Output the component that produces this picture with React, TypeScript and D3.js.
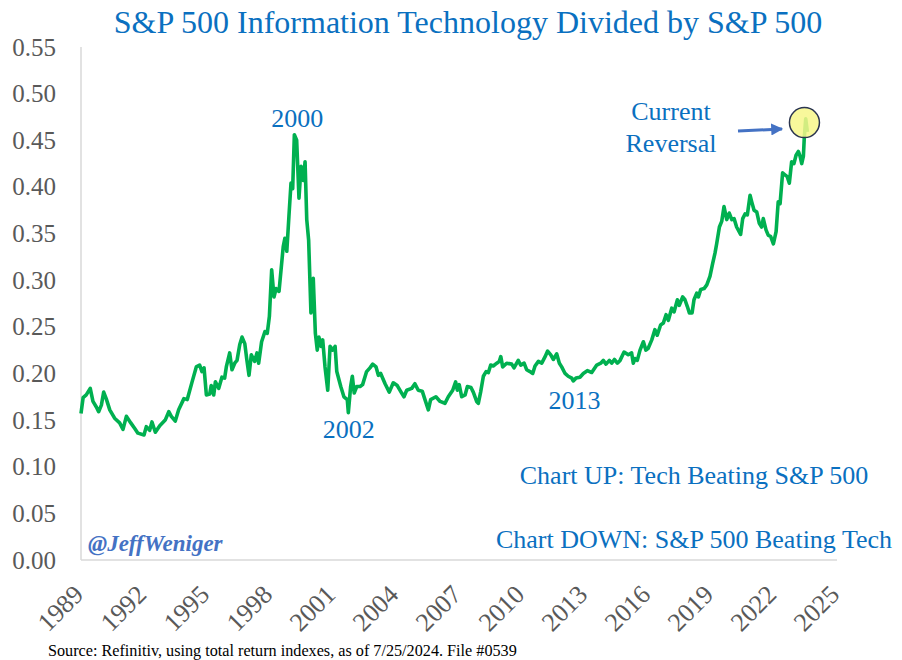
import React from "react";
import * as d3 from "d3";

// Decimal years and ratio values
const years: number[] = [
  1989.0, 1989.1, 1989.25, 1989.44, 1989.57, 1989.73, 1989.84, 1989.97, 1990.08, 1990.2,
  1990.37, 1990.6, 1990.84, 1991.0, 1991.16, 1991.37, 1991.56, 1991.71, 1992.0, 1992.11,
  1992.27, 1992.38, 1992.54, 1992.75, 1993.01, 1993.18, 1993.3, 1993.49, 1993.65, 1993.9,
  1994.06, 1994.29, 1994.49, 1994.65, 1994.76, 1994.86, 1994.97, 1995.13, 1995.2, 1995.32,
  1995.4, 1995.56, 1995.71, 1995.84, 1995.92, 1996.08, 1996.19, 1996.32, 1996.43, 1996.56,
  1996.67, 1996.8, 1996.9, 1997.0, 1997.11, 1997.27, 1997.38, 1997.46, 1997.6, 1997.76,
  1997.87, 1997.97, 1998.08, 1998.19, 1998.29, 1998.43, 1998.63, 1998.71, 1998.8, 1998.9,
  1999.0, 1999.08, 1999.16, 1999.27, 1999.38, 1999.48, 1999.59, 1999.67, 1999.75, 1999.84,
  1999.95, 2000.06, 2000.16, 2000.25, 2000.33, 2000.43, 2000.51, 2000.62, 2000.75, 2000.86,
  2000.99, 2001.1, 2001.18, 2001.37, 2001.52, 2001.68, 2001.73, 2001.84, 2001.92, 2002.01,
  2002.13, 2002.29, 2002.41, 2002.6, 2002.76, 2002.89, 2003.05, 2003.16, 2003.27, 2003.48,
  2003.68, 2003.87, 2004.06, 2004.27, 2004.38, 2004.51, 2004.75, 2004.9, 2005.06, 2005.25,
  2005.38, 2005.54, 2005.65, 2005.9, 2006.1, 2006.33, 2006.49, 2006.7, 2006.84, 2006.92,
  2007.01, 2007.13, 2007.29, 2007.4, 2007.57, 2007.68, 2007.84, 2007.92, 2008.03, 2008.16,
  2008.29, 2008.4, 2008.51, 2008.63, 2008.8, 2008.92, 2008.99, 2009.08, 2009.27, 2009.51,
  2009.62, 2009.82, 2009.94, 2010.1, 2010.22, 2010.38, 2010.51, 2010.62, 2010.78, 2010.94,
  2011.1, 2011.22, 2011.37, 2011.49, 2011.65, 2011.78, 2011.89, 2012.05, 2012.2, 2012.37,
  2012.44, 2012.57, 2012.76, 2012.92, 2013.11, 2013.32, 2013.56, 2013.75, 2013.87, 2014.0,
  2014.16, 2014.27, 2014.4, 2014.54, 2014.67, 2014.86, 2015.06, 2015.22, 2015.3, 2015.38,
  2015.49, 2015.62, 2015.78, 2015.9, 2016.01, 2016.18, 2016.33, 2016.44, 2016.6, 2016.73,
  2016.86, 2016.97, 2017.13, 2017.24, 2017.4, 2017.49, 2017.65, 2017.76, 2017.87, 2017.97,
  2018.1, 2018.19, 2018.32, 2018.4, 2018.51, 2018.67, 2018.8, 2018.95, 2019.08, 2019.19,
  2019.27, 2019.4, 2019.51, 2019.62, 2019.75, 2019.87, 2019.99, 2020.1, 2020.22, 2020.41,
  2020.51, 2020.62, 2020.73, 2020.86, 2020.94, 2021.05, 2021.18, 2021.3, 2021.41, 2021.49,
  2021.62, 2021.73, 2021.84, 2021.97, 2022.1, 2022.2, 2022.29, 2022.41, 2022.52, 2022.63,
  2022.73, 2022.84, 2022.95, 2023.05, 2023.16, 2023.24, 2023.32, 2023.4, 2023.44, 2023.51,
  2023.59,
];

const ratios: number[] = [
  0.157, 0.174, 0.177, 0.184, 0.17, 0.164, 0.159, 0.166, 0.18, 0.173,
  0.161, 0.152, 0.147, 0.14, 0.154, 0.147, 0.141, 0.136, 0.134, 0.143,
  0.139, 0.148, 0.137, 0.144, 0.15, 0.159, 0.154, 0.149, 0.161, 0.173,
  0.172, 0.191, 0.207, 0.209, 0.202, 0.206, 0.177, 0.178, 0.187, 0.177,
  0.191, 0.184, 0.196, 0.195, 0.207, 0.222, 0.204, 0.211, 0.214, 0.231,
  0.239, 0.232, 0.214, 0.198, 0.22, 0.213, 0.222, 0.211, 0.234, 0.245,
  0.243, 0.261, 0.311, 0.282, 0.291, 0.288, 0.336, 0.345, 0.331, 0.368,
  0.404, 0.398, 0.456, 0.45, 0.388, 0.422, 0.407, 0.427, 0.365, 0.343,
  0.265, 0.302, 0.243, 0.225, 0.239, 0.229, 0.236, 0.207, 0.182, 0.229,
  0.225, 0.229, 0.202, 0.186, 0.175, 0.172, 0.158, 0.186, 0.197, 0.179,
  0.186, 0.186, 0.188, 0.202, 0.206, 0.21, 0.207, 0.198, 0.2, 0.189,
  0.18, 0.19, 0.187, 0.179, 0.175, 0.182, 0.184, 0.189, 0.182, 0.181,
  0.172, 0.161, 0.172, 0.175, 0.17, 0.168, 0.175, 0.182, 0.191, 0.182,
  0.188, 0.175, 0.177, 0.186, 0.185, 0.18, 0.17, 0.168, 0.18, 0.197,
  0.202, 0.201, 0.209, 0.208, 0.211, 0.213, 0.218, 0.207, 0.211, 0.21,
  0.206, 0.214, 0.209, 0.211, 0.204, 0.202, 0.2, 0.208, 0.213, 0.211,
  0.218, 0.224, 0.22, 0.215, 0.221, 0.211, 0.207, 0.2, 0.197, 0.195,
  0.192, 0.195, 0.196, 0.2, 0.203, 0.201, 0.209, 0.211, 0.214, 0.21,
  0.214, 0.211, 0.215, 0.211, 0.214, 0.223, 0.22, 0.222, 0.211, 0.216,
  0.214, 0.225, 0.234, 0.225, 0.227, 0.236, 0.247, 0.241, 0.252, 0.254,
  0.263, 0.257, 0.27, 0.266, 0.279, 0.273, 0.282, 0.279, 0.272, 0.265,
  0.265, 0.279, 0.286, 0.282, 0.29, 0.291, 0.295, 0.304, 0.318, 0.329,
  0.339, 0.357, 0.363, 0.379, 0.365, 0.372, 0.365, 0.366, 0.357, 0.349,
  0.366, 0.371, 0.37, 0.391, 0.384, 0.375, 0.373, 0.361, 0.357, 0.366,
  0.354, 0.348, 0.347, 0.339, 0.352, 0.384, 0.382, 0.415, 0.413, 0.411,
  0.404, 0.427, 0.425, 0.434, 0.438, 0.433, 0.425, 0.433, 0.452, 0.473,
  0.459,
];

const yTicks: number[] = [0, 0.05, 0.1, 0.15, 0.2, 0.25, 0.3, 0.35, 0.4, 0.45, 0.5, 0.55];
const xTicks: number[] = [1989, 1992, 1995, 1998, 2001, 2004, 2007, 2010, 2013, 2016, 2019, 2022, 2025];

const title = "S&P 500 Information Technology Divided by S&P 500";
const source = "Source: Refinitiv, using total return indexes, as of 7/25/2024. File #0539";
const yearNotes = [
  { label: "2000", year: 1999.3, value: 0.456, dy: -8 },
  { label: "2002", year: 2001.75, value: 0.158, dy: 25 },
  { label: "2013", year: 2012.5, value: 0.192, dy: 28 },
];
const reversalPoint = { year: 2023.45, value: 0.469 };

const FONT = "'Liberation Serif', 'Times New Roman', serif";
const BLUE = "#0a70c0";
const GRAY = "#595959";

export default function App() {
  const W = 902;
  const H = 660;
  const x = d3.scaleLinear().domain([1989, 2025]).range([81, 837]);
  const y = d3.scaleLinear().domain([0, 0.55]).range([560, 47]);

  const data = years.map((yr, i) => [yr, ratios[i]] as [number, number]);
  const line = d3
    .line<[number, number]>()
    .x((d) => x(d[0]))
    .y((d) => y(d[1]))
    .curve(d3.curveLinear);

  const cx = x(reversalPoint.year);
  const cy = y(reversalPoint.value);

  return (
    <svg
      width={W}
      height={H}
      style={{ position: "absolute", left: 0, top: 0, background: "#fff" }}
      fontFamily={FONT}
    >
      <defs>
        <marker id="arr" viewBox="0 0 10 10" refX="9" refY="5" markerWidth="4" markerHeight="4" orient="auto">
          <path d="M0,0 L10,5 L0,10 z" fill="#4472c4" />
        </marker>
      </defs>
      <rect x={0} y={0} width={W} height={H} fill="#fff" />
      <text x={468} y={33} textAnchor="middle" fontSize={32} fill={BLUE}>
        {title}
      </text>

      {/* axes */}
      <line x1={x(1989)} x2={x(1989)} y1={y(0.55)} y2={y(0)} stroke="#d9d9d9" strokeWidth={1.5} />
      <line x1={x(1989)} x2={x(2025)} y1={y(0)} y2={y(0)} stroke="#d9d9d9" strokeWidth={1.5} />

      {yTicks.map((t) => (
        <text key={t} x={56} y={y(t)} dy="0.34em" textAnchor="end" fontSize={25} fill={GRAY}>
          {t.toFixed(2)}
        </text>
      ))}
      {xTicks.map((t) => (
        <text
          key={t}
          transform={`translate(${x(t) + 4},${596}) rotate(-45)`}
          textAnchor="end"
          fontSize={26}
          fill={GRAY}
        >
          {t}
        </text>
      ))}

      <path d={line(data) || ""} fill="none" stroke="#00b050" strokeWidth={3.6} strokeLinejoin="round" />

      {yearNotes.map((n) => (
        <text key={n.label} x={x(n.year)} y={y(n.value) + n.dy} textAnchor="middle" fontSize={26} fill={BLUE}>
          {n.label}
        </text>
      ))}

      <text x={671} y={120} textAnchor="middle" fontSize={26} fill={BLUE}>Current</text>
      <text x={671} y={152} textAnchor="middle" fontSize={26} fill={BLUE}>Reversal</text>
      <line x1={738} y1={131} x2={782} y2={129} stroke="#4472c4" strokeWidth={3} markerEnd="url(#arr)" />
      <circle cx={cx} cy={cy} r={15} fill="#f7f78a" fillOpacity={0.85} stroke="#2b3550" strokeWidth={1.5} />

      <text x={694} y={484} textAnchor="middle" fontSize={26} fill={BLUE}>Chart UP: Tech Beating S&amp;P 500</text>
      <text x={694} y={548} textAnchor="middle" fontSize={26} fill={BLUE}>Chart DOWN: S&amp;P 500 Beating Tech</text>

      <text x={88} y={551} fontSize={23} fontWeight="bold" fontStyle="italic" fill="#4472c4">@JeffWeniger</text>

      <text x={48} y={656} fontSize={16.2} fill="#000">{source}</text>
    </svg>
  );
}
